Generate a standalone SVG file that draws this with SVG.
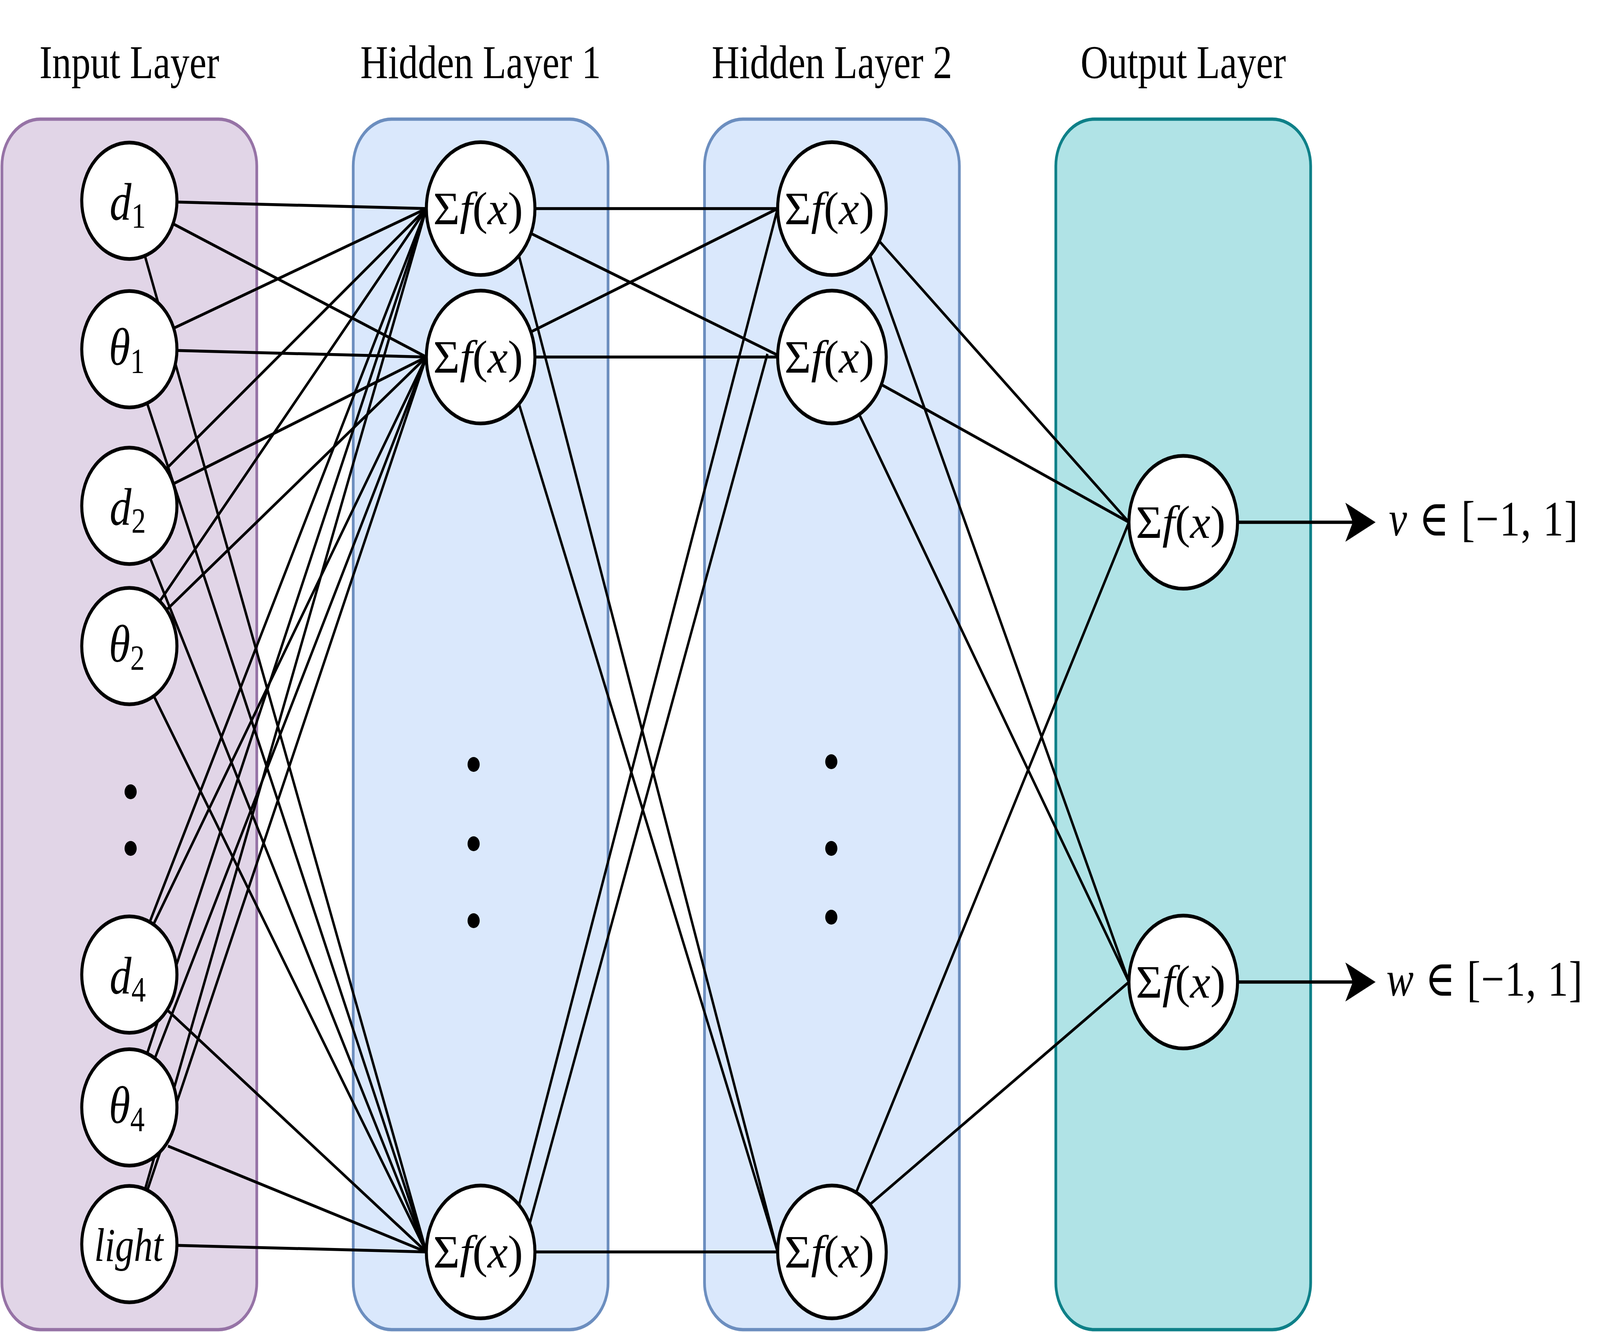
<svg xmlns="http://www.w3.org/2000/svg" width="5010" height="3410" viewBox="0 0 5010 3410" preserveAspectRatio="none">
<style>
svg{width:100vw;height:100vh;display:block}
.lane{stroke-width:8.5}
.in{fill:#e1d5e7;stroke:#9673a6}
.hid{fill:#dae8fc;stroke:#6c8ebf}
.out{fill:#b0e3e6;stroke:#0e8088}
.title{font-family:"Liberation Serif","DejaVu Serif",serif;font-size:120px;text-anchor:middle;fill:#000}
.edge{fill:none;stroke:#000;stroke-width:7.5}
.arrow{fill:none;stroke:#000;stroke-width:8.5}
.node{fill:#fff;stroke:#000;stroke-width:9.5}
.lbl{font-family:"Liberation Serif","DejaVu Serif",serif;fill:#000}
.var{font-size:136px;font-style:italic;text-anchor:middle}
.sub{font-size:90px;font-style:normal}
.sum{font-size:118px;text-anchor:middle}
.it{font-style:italic}
.dot{fill:#000}
.res{font-size:128px}
</style>
<defs>
<marker id="arr" markerUnits="userSpaceOnUse" markerWidth="100" markerHeight="100" viewBox="0 0 89 94" refX="22" refY="47" orient="auto">
<path d="M0,0 L89,47 L0,94 L22,47 Z" fill="#000"/>
</marker>
</defs>

<g id="lanes">
<g id="input-layer"><rect class="lane in" x="6" y="305" width="798" height="3099" rx="120"/><text class="title" x="405" y="200">Input Layer</text></g>
<g id="hidden-layer-1"><rect class="lane hid" x="1106" y="305" width="798" height="3099" rx="120"/><text class="title" x="1505" y="200">Hidden Layer 1</text></g>
<g id="hidden-layer-2"><rect class="lane hid" x="2206" y="305" width="798" height="3099" rx="120"/><text class="title" x="2605" y="200">Hidden Layer 2</text></g>
<g id="output-layer"><rect class="lane out" x="3306" y="305" width="798" height="3099" rx="120"/><text class="title" x="3705" y="200">Output Layer</text></g>
</g>

<g id="connectors">
<path class="edge" d="M405,514 L1335,534"/>
<path class="edge" d="M405,514 L1335,914"/>
<path class="edge" d="M405,514 L1335,3205"/>
<path class="edge" d="M405,894 L1335,534"/>
<path class="edge" d="M405,894 L1335,914"/>
<path class="edge" d="M405,894 L1335,3205"/>
<path class="edge" d="M405,1295 L1335,534"/>
<path class="edge" d="M405,1295 L1335,914"/>
<path class="edge" d="M405,1295 L1335,3205"/>
<path class="edge" d="M405,1654 L1335,534"/>
<path class="edge" d="M405,1654 L1335,914"/>
<path class="edge" d="M405,1654 L1335,3205"/>
<path class="edge" d="M405,2495 L1335,534"/>
<path class="edge" d="M405,2495 L1335,914"/>
<path class="edge" d="M405,2495 L1335,3205"/>
<path class="edge" d="M405,2835 L1335,534"/>
<path class="edge" d="M486,2707 L1335,914"/>
<path class="edge" d="M526,2934 L1335,3205"/>
<path class="edge" d="M405,3185 L1335,534"/>
<path class="edge" d="M405,3185 L1335,914"/>
<path class="edge" d="M405,3185 L1335,3205"/>

<path class="edge" d="M1505,534 L2435,534"/>
<path class="edge" d="M1505,534 L2432,908"/>
<path class="edge" d="M1625,655 L2435,3205"/>
<path class="edge" d="M1505,914 L2435,534"/>
<path class="edge" d="M1505,914 L2435,914"/>
<path class="edge" d="M1625,1034 L2435,3205"/>
<path class="edge" d="M1625,3085 L2435,534"/>
<path class="edge" d="M1658,3134 L2403,906"/>
<path class="edge" d="M1505,3205 L2435,3205"/>

<path class="edge" d="M2754,618 L3535,1337"/>
<path class="edge" d="M2725,655 L3535,2514"/>
<path class="edge" d="M2605,914 L3535,1337"/>
<path class="edge" d="M2605,914 L3535,2514"/>
<path class="edge" d="M2605,3205 L3535,1337"/>
<path class="edge" d="M2726,3082 L3535,2514"/>

<path class="arrow" d="M3875,1337 L4236,1337" marker-end="url(#arr)"/>
<path class="arrow" d="M3875,2514 L4236,2514" marker-end="url(#arr)"/>
</g>

<g id="input-nodes">
<g id="n-d1"><circle class="node" cx="405" cy="514" r="149"/><text class="lbl var" x="400" y="563">d<tspan class="sub" dy="20">1</tspan></text></g>
<g id="n-theta1"><circle class="node" cx="405" cy="894" r="149"/><text class="lbl var" x="397" y="934">θ<tspan class="sub" dy="21">1</tspan></text></g>
<g id="n-d2"><circle class="node" cx="405" cy="1295" r="149"/><text class="lbl var" x="400" y="1344">d<tspan class="sub" dy="20">2</tspan></text></g>
<g id="n-theta2"><circle class="node" cx="405" cy="1654" r="149"/><text class="lbl var" x="397" y="1694">θ<tspan class="sub" dy="21">2</tspan></text></g>
<g id="input-dots"><circle class="dot" cx="409" cy="2027" r="19"/><circle class="dot" cx="409" cy="2172" r="19"/></g>
<g id="n-d4"><circle class="node" cx="405" cy="2495" r="149"/><text class="lbl var" x="400" y="2544">d<tspan class="sub" dy="20">4</tspan></text></g>
<g id="n-theta4"><circle class="node" cx="405" cy="2835" r="149"/><text class="lbl var" x="397" y="2875">θ<tspan class="sub" dy="21">4</tspan></text></g>
<g id="n-light"><circle class="node" cx="405" cy="3185" r="149"/><text class="lbl it" x="403" y="3228" font-size="120" text-anchor="middle" textLength="216" lengthAdjust="spacingAndGlyphs">light</text></g>
</g>

<g id="hidden1-nodes">
<g id="h1-1"><circle class="node" cx="1505" cy="534" r="170"/><text class="lbl sum" x="1497" y="574" textLength="281" lengthAdjust="spacingAndGlyphs">Σ<tspan class="it">f</tspan>(<tspan class="it">x</tspan>)</text></g>
<g id="h1-2"><circle class="node" cx="1505" cy="914" r="170"/><text class="lbl sum" x="1497" y="954" textLength="281" lengthAdjust="spacingAndGlyphs">Σ<tspan class="it">f</tspan>(<tspan class="it">x</tspan>)</text></g>
<g id="h1-dots"><circle class="dot" cx="1483" cy="1957" r="19"/><circle class="dot" cx="1483" cy="2160" r="19"/><circle class="dot" cx="1483" cy="2357" r="19"/></g>
<g id="h1-3"><circle class="node" cx="1505" cy="3205" r="170"/><text class="lbl sum" x="1497" y="3245" textLength="281" lengthAdjust="spacingAndGlyphs">Σ<tspan class="it">f</tspan>(<tspan class="it">x</tspan>)</text></g>
</g>

<g id="hidden2-nodes">
<g id="h2-1"><circle class="node" cx="2605" cy="534" r="170"/><text class="lbl sum" x="2597" y="574" textLength="281" lengthAdjust="spacingAndGlyphs">Σ<tspan class="it">f</tspan>(<tspan class="it">x</tspan>)</text></g>
<g id="h2-2"><circle class="node" cx="2605" cy="914" r="170"/><text class="lbl sum" x="2597" y="954" textLength="281" lengthAdjust="spacingAndGlyphs">Σ<tspan class="it">f</tspan>(<tspan class="it">x</tspan>)</text></g>
<g id="h2-dots"><circle class="dot" cx="2603" cy="1950" r="19"/><circle class="dot" cx="2603" cy="2172" r="19"/><circle class="dot" cx="2603" cy="2348" r="19"/></g>
<g id="h2-3"><circle class="node" cx="2605" cy="3205" r="170"/><text class="lbl sum" x="2597" y="3245" textLength="281" lengthAdjust="spacingAndGlyphs">Σ<tspan class="it">f</tspan>(<tspan class="it">x</tspan>)</text></g>
</g>

<g id="output-nodes">
<g id="o-1"><circle class="node" cx="3705" cy="1337" r="170"/><text class="lbl sum" x="3697" y="1377" textLength="281" lengthAdjust="spacingAndGlyphs">Σ<tspan class="it">f</tspan>(<tspan class="it">x</tspan>)</text></g>
<g id="o-2"><circle class="node" cx="3705" cy="2514" r="170"/><text class="lbl sum" x="3697" y="2554" textLength="281" lengthAdjust="spacingAndGlyphs">Σ<tspan class="it">f</tspan>(<tspan class="it">x</tspan>)</text></g>
</g>

<g id="outputs">
<text class="lbl res" x="4349" y="1371" textLength="592" lengthAdjust="spacing"><tspan class="it">v</tspan> ∈ [−1, 1]</text>
<text class="lbl res" x="4341" y="2549" textLength="614" lengthAdjust="spacing"><tspan class="it">w</tspan> ∈ [−1, 1]</text>
</g>
</svg>
